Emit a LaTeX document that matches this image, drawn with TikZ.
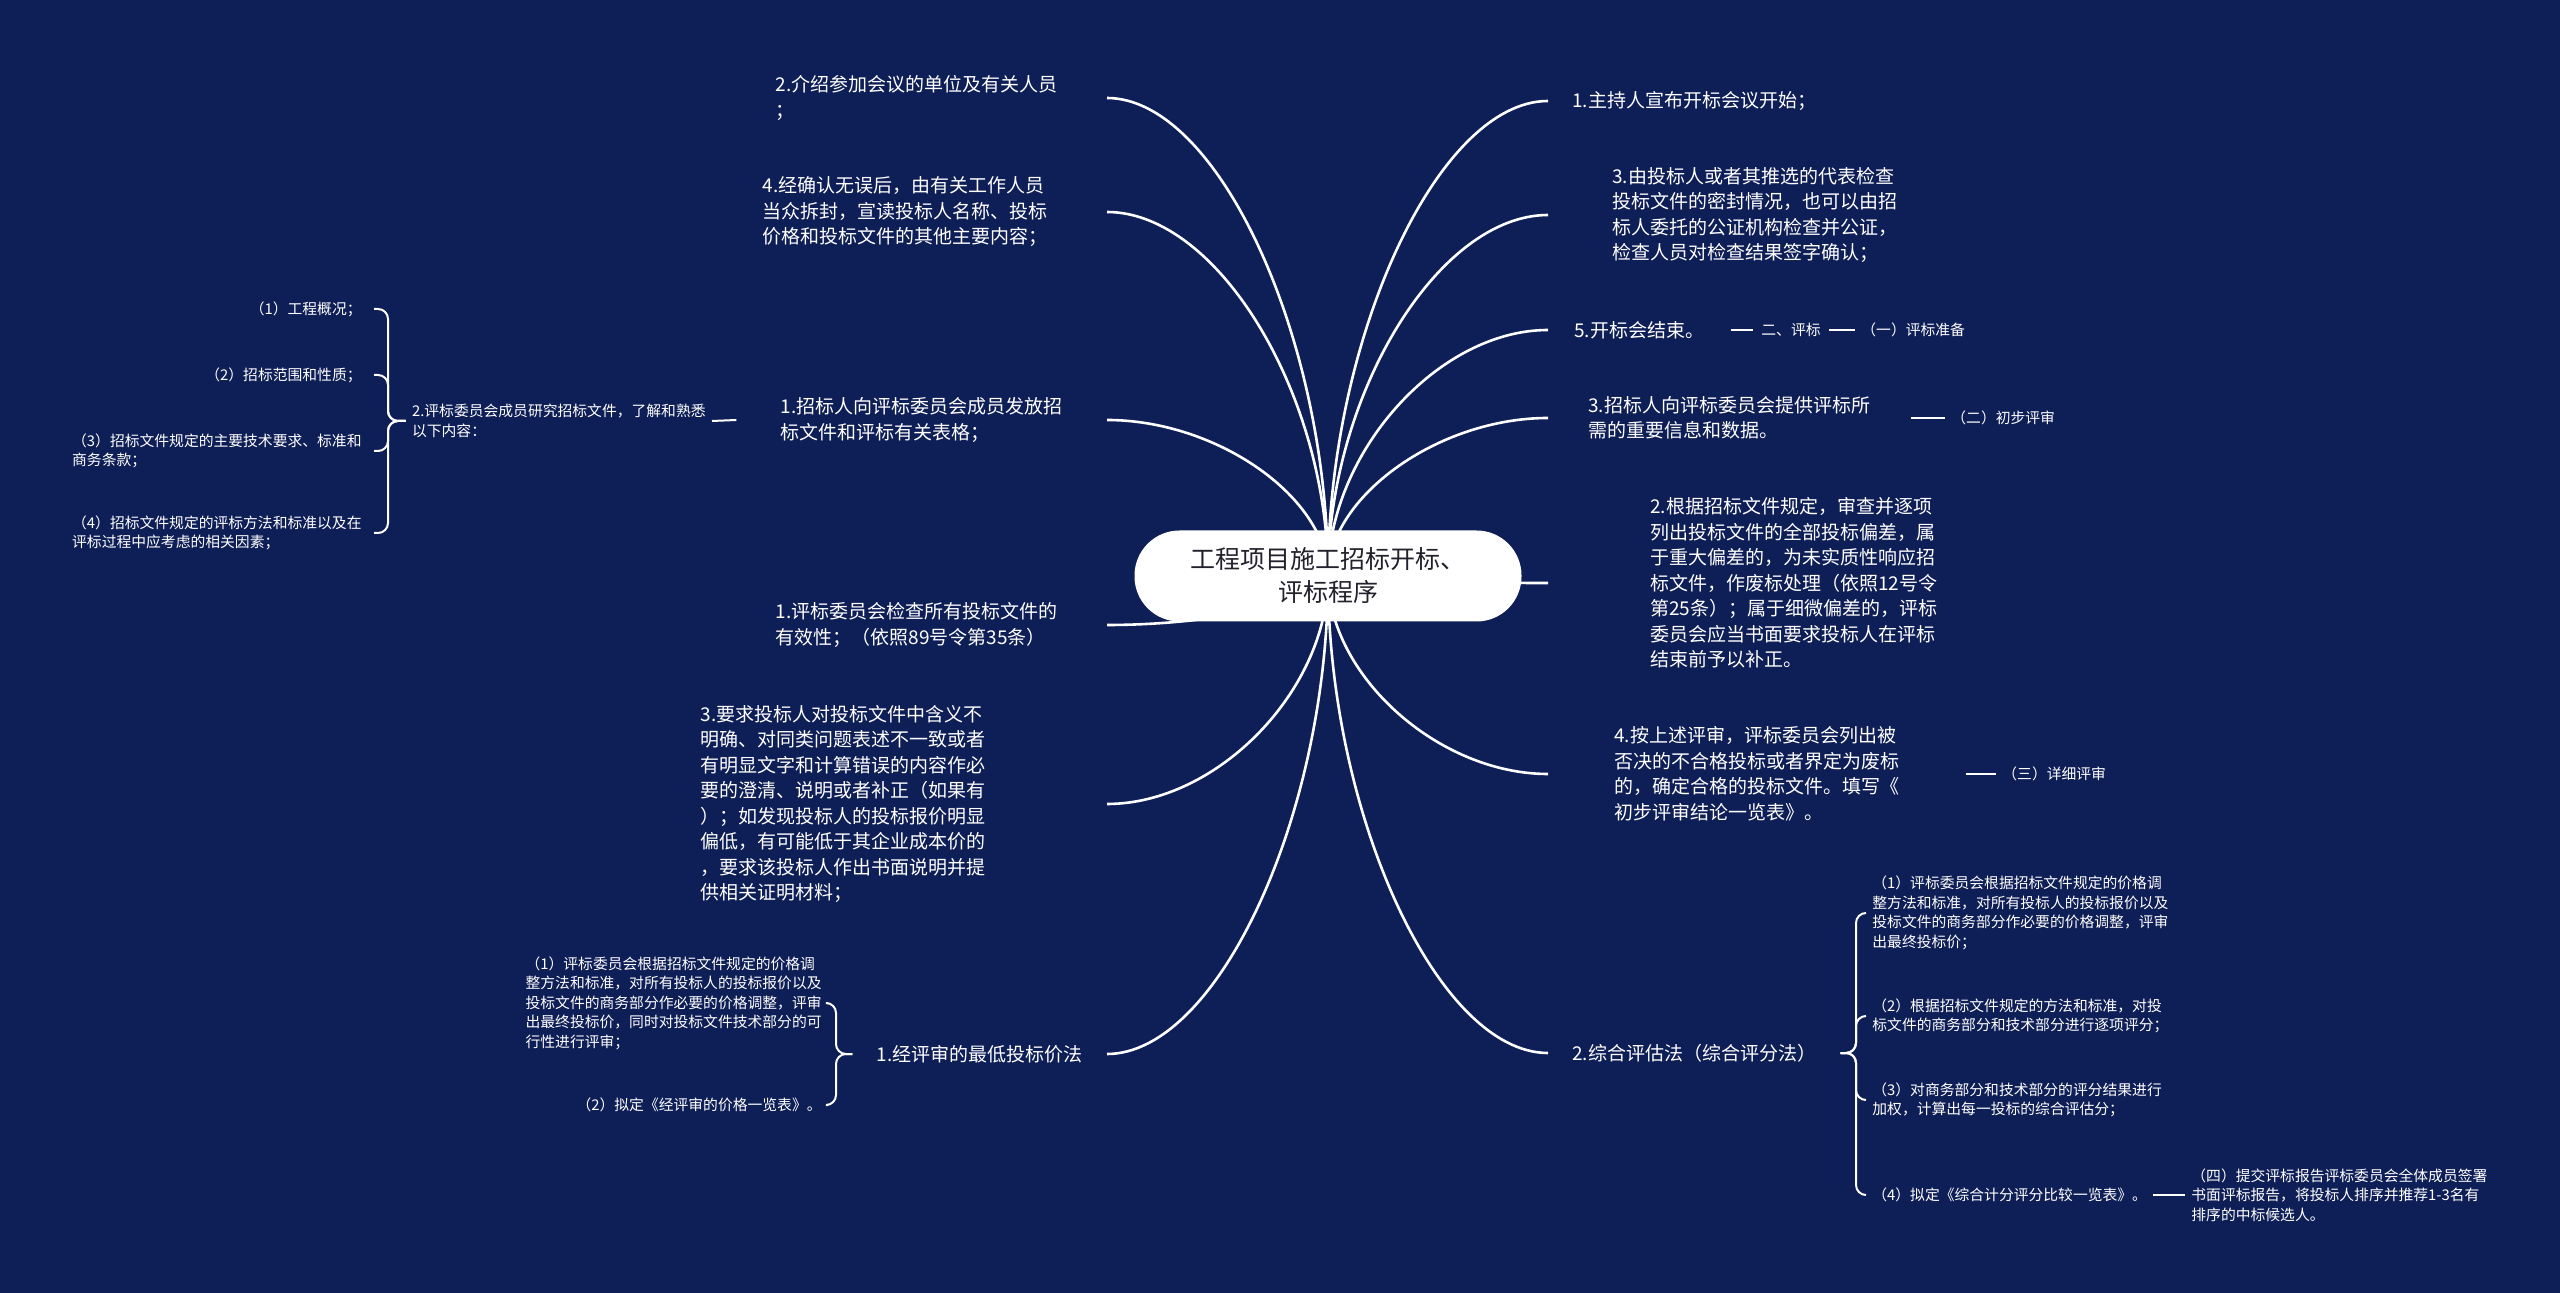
\documentclass[tikz,border=0pt]{standalone}
\usepackage{fontspec}
\setmainfont{Noto Sans CJK SC}
\usepackage{tikz}
\usetikzlibrary{backgrounds,calc}

\definecolor{pagebg}{RGB}{14,30,86}
\definecolor{hubtext}{RGB}{34,34,44}

\tikzset{
  hub/.style={fill=white, text=hubtext, rounded corners=22.5pt, minimum width=193.5pt,
    minimum height=45.5pt, align=center, font=\fontsize{12.5}{16.5}\selectfont},
  topic/.style={text=white, align=left, inner ysep=1pt, font=\fontsize{9.5}{12.75}\selectfont},
  leaf/.style={text=white, align=left, inner ysep=1pt, font=\fontsize{7.4}{9.75}\selectfont},
  branch/.style={draw=white, line width=1.3pt},
  twig/.style={draw=white, line width=1pt, rounded corners=5pt},
}

\begin{document}
\begin{tikzpicture}[x=0.5pt, y=-0.5pt]
\useasboundingbox (0,0) rectangle (2560,1293);
% Central topic.
\node[hub] (root) at (1328,576) {工程项目施工招标开标、\\评标程序};

% Left-hand topics.
\node[topic, anchor=east, inner xsep=24.5pt] (l1) at (1107,98) {2.介绍参加会议的单位及有关人员\\；};
\node[topic, anchor=east, inner xsep=29.5pt] (l2) at (1107,212) {4.经确认无误后，由有关工作人员\\当众拆封，宣读投标人名称、投标\\价格和投标文件的其他主要内容；};
\node[topic, anchor=east, inner xsep=22pt] (l3) at (1107,420) {1.招标人向评标委员会成员发放招\\标文件和评标有关表格；};
\node[topic, anchor=east, inner xsep=24.5pt] (l4) at (1107,625) {1.评标委员会检查所有投标文件的\\有效性；（依照89号令第35条）};
\node[topic, anchor=east, inner xsep=60.5pt] (l5) at (1107,804) {3.要求投标人对投标文件中含义不\\明确、对同类问题表述不一致或者\\有明显文字和计算错误的内容作必\\要的澄清、说明或者补正（如果有\\）；如发现投标人的投标报价明显\\偏低，有可能低于其企业成本价的\\，要求该投标人作出书面说明并提\\供相关证明材料；};
\node[topic, anchor=east, inner xsep=12pt] (l6) at (1107,1054) {1.经评审的最低投标价法};

% Right-hand topics.
\node[topic, anchor=west, inner xsep=12pt] (r1) at (1548,101) {1.主持人宣布开标会议开始；};
\node[topic, anchor=west, inner xsep=32pt] (r2) at (1548,215) {3.由投标人或者其推选的代表检查\\投标文件的密封情况，也可以由招\\标人委托的公证机构检查并公证，\\检查人员对检查结果签字确认；};
\node[topic, anchor=west, inner xsep=13pt] (r3) at (1548,330) {5.开标会结束。};
\node[topic, anchor=west, inner xsep=20pt] (r4) at (1548,418) {3.招标人向评标委员会提供评标所\\需的重要信息和数据。};
\node[topic, anchor=west, inner xsep=51pt] (r5) at (1548,583) {2.根据招标文件规定，审查并逐项\\列出投标文件的全部投标偏差，属\\于重大偏差的，为未实质性响应招\\标文件，作废标处理（依照12号令\\第25条）；属于细微偏差的，评标\\委员会应当书面要求投标人在评标\\结束前予以补正。};
\node[topic, anchor=west, inner xsep=33pt] (r6) at (1548,774) {4.按上述评审，评标委员会列出被\\否决的不合格投标或者界定为废标\\的，确定合格的投标文件。填写《\\初步评审结论一览表》。};
\node[topic, anchor=west, inner xsep=12pt] (r7) at (1548,1053) {2.综合评估法（综合评分法）};

% Stages hanging off the right topics.
\node[leaf, anchor=west, inner xsep=4pt] (e1) at (1753,330) {二、评标};
\node[leaf, anchor=west, inner xsep=3pt] (e2) at (1855,330) {（一）评标准备};
\node[leaf, anchor=west, inner xsep=3pt] (p1) at (1945,418) {（二）初步评审};
\node[leaf, anchor=west, inner xsep=3pt] (d1) at (1996,774) {（三）详细评审};
\draw[twig] (r3.east) -- (e1.west);
\draw[twig] (e1.east) -- (e2.west);
\draw[twig] (r4.east) -- (p1.west);
\draw[twig] (r6.east) -- (d1.west);

% Committee study items.
\node[leaf, anchor=east, inner xsep=3pt] (m1) at (712,421) {2.评标委员会成员研究招标文件，了解和熟悉\\以下内容：};
\draw[twig] (l3.west) -- (m1.east);
\coordinate (s1) at (388,421);
\foreach \i/\y/\t in {1/309/{（1）工程概况；}, 2/375/{（2）招标范围和性质；},
    3/451/{（3）招标文件规定的主要技术要求、标准和\\商务条款；},
    4/533/{（4）招标文件规定的评标方法和标准以及在\\评标过程中应考虑的相关因素；}}{
  \node[leaf, anchor=east, inner xsep=6pt] (lc\i) at (374,\y) {\t};
  \draw[twig] (m1.west) -- (s1) -- (s1 |- lc\i.east) -- (lc\i.east);
}

% Lowest evaluated price method.
\coordinate (s2) at (836,1054);
\foreach \i/\y/\t in {1/1003/{（1）评标委员会根据招标文件规定的价格调\\整方法和标准，对所有投标人的投标报价以及\\投标文件的商务部分作必要的价格调整，评审\\出最终投标价，同时对投标文件技术部分的可\\行性进行评审；},
    2/1105/{（2）拟定《经评审的价格一览表》。}}{
  \node[leaf, anchor=east, inner xsep=3pt] (bc\i) at (828,\y) {\t};
  \draw[twig] (l6.west) -- (s2) -- (s2 |- bc\i.east) -- (bc\i.east);
}

% Comprehensive evaluation method.
\coordinate (s3) at (1856,1053);
\foreach \i/\y/\t in {1/913/{（1）评标委员会根据招标文件规定的价格调\\整方法和标准，对所有投标人的投标报价以及\\投标文件的商务部分作必要的价格调整，评审\\出最终投标价；},
    2/1016/{（2）根据招标文件规定的方法和标准，对投\\标文件的商务部分和技术部分进行逐项评分；},
    3/1100/{（3）对商务部分和技术部分的评分结果进行\\加权，计算出每一投标的综合评估分；},
    4/1195/{（4）拟定《综合计分评分比较一览表》。}}{
  \node[leaf, anchor=west, inner xsep=3pt] (rc\i) at (1866,\y) {\t};
  \draw[twig] (r7.east) -- (s3) -- (s3 |- rc\i.west) -- (rc\i.west);
}
\node[leaf, anchor=west, inner xsep=3pt] (f1) at (2185,1195) {（四）提交评标报告评标委员会全体成员签署\\书面评标报告，将投标人排序并推荐1-3名有\\排序的中标候选人。};
\draw[twig] (rc4.east) -- (f1.west);

% Curved branches out of the centre, behind the topics.
\begin{scope}[on background layer]
  \fill[pagebg] (0,0) rectangle (2560,1293);
  \foreach \i in {1,...,6}
    \draw[branch] (root.center)
      .. controls ($(root.center)!0.5!(root.center |- l\i.east)$)
      and ($(l\i.east)!0.5!(root.center |- l\i.east)$) .. (l\i.east);
  \foreach \i in {1,...,7}
    \draw[branch] (root.center)
      .. controls ($(root.center)!0.5!(root.center |- r\i.west)$)
      and ($(r\i.west)!0.5!(root.center |- r\i.west)$) .. (r\i.west);
\end{scope}
\end{tikzpicture}
\end{document}
